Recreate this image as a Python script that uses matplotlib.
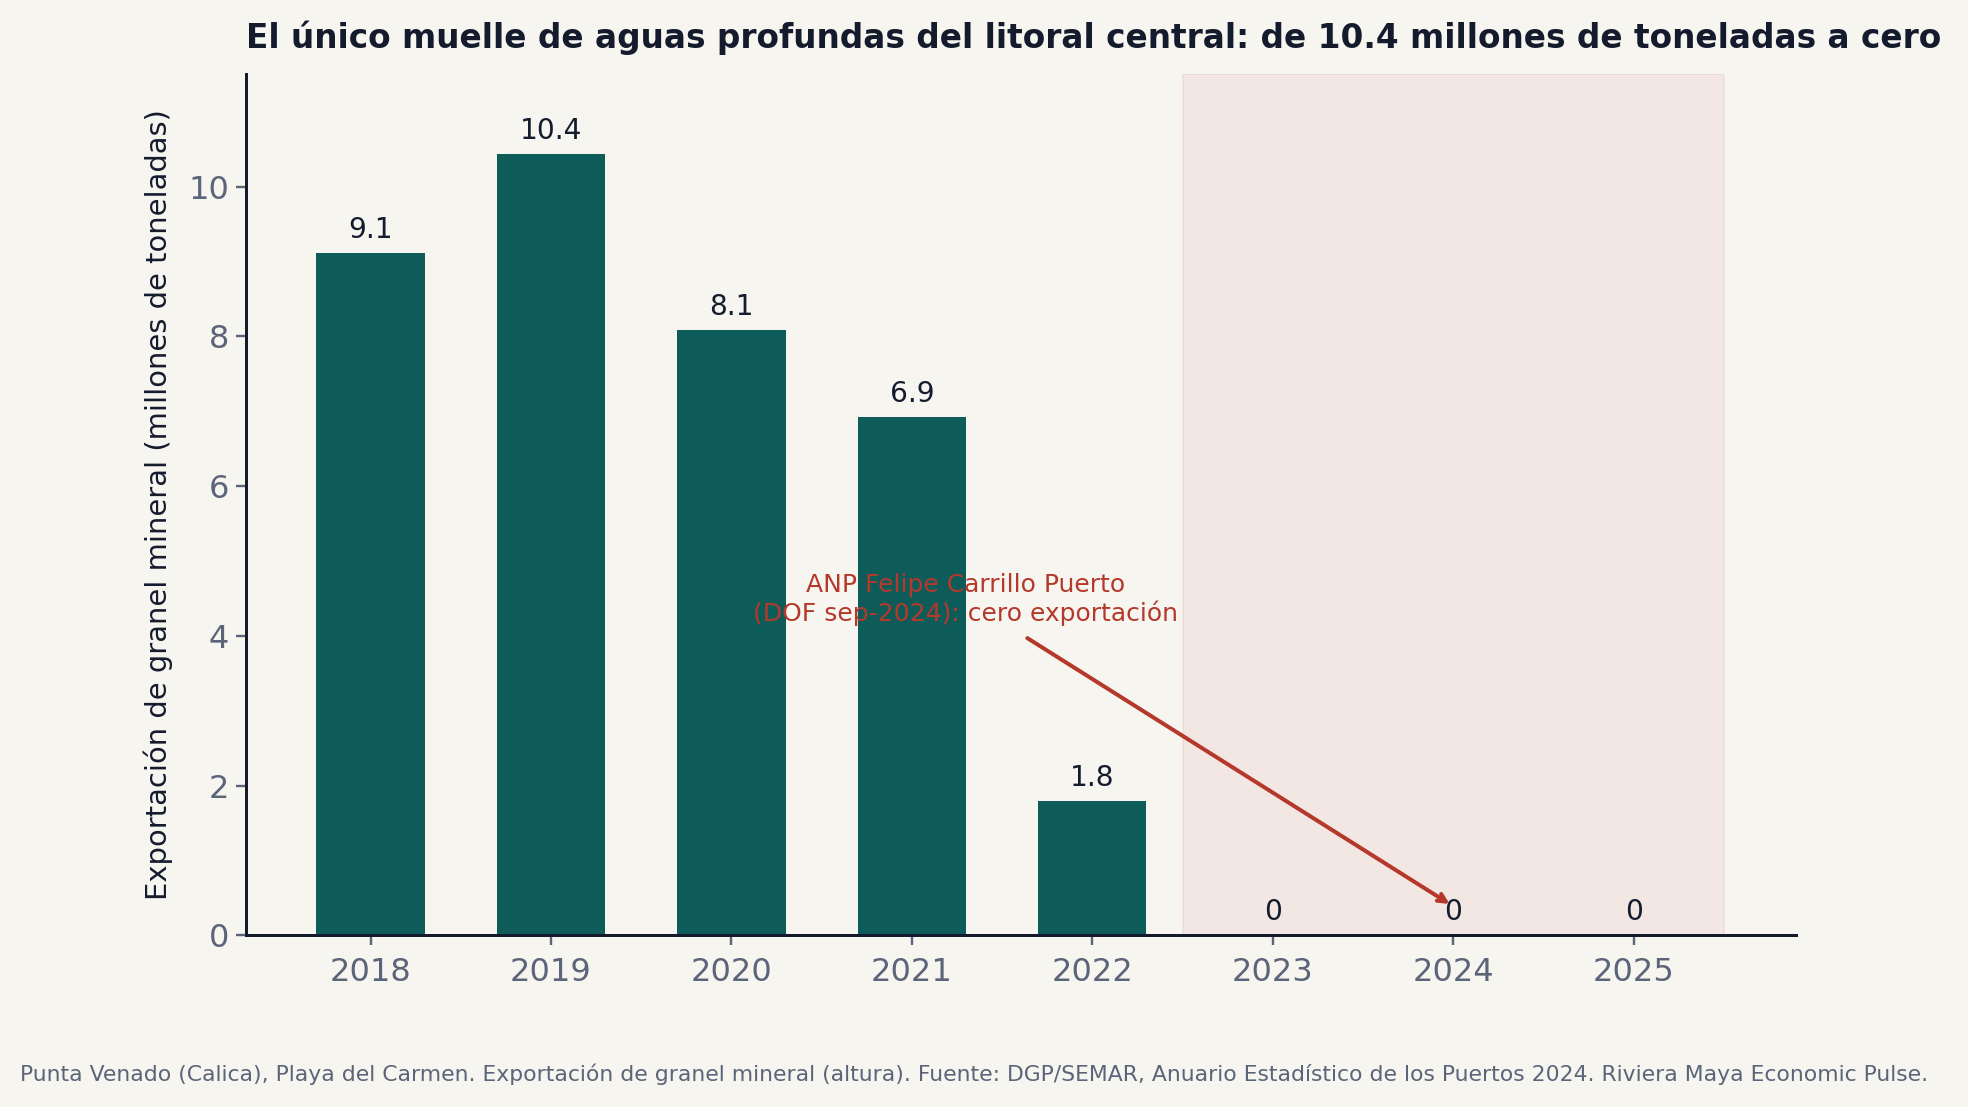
import numpy as np
import matplotlib
matplotlib.use('Agg')
import matplotlib.pyplot as plt

# data
years = ['2018', '2019', '2020', '2021', '2022', '2023', '2024', '2025']
export_mt = [9.11, 10.44, 8.09, 6.92, 1.80, 0, 0, 0]
labels = ['9.1', '10.4', '8.1', '6.9', '1.8', '0', '0', '0']

bg = '#f6f5f0'
teal = '#0d5c5a'
red = '#b5382b'
grey = '#5b6478'
dark = '#141b2d'

fig = plt.figure(figsize=(13.667, 7.6875), dpi=144, facecolor=bg)
ax = fig.add_axes([0.125, 0.155, 0.7876, 0.778])
ax.set_facecolor(bg)

x = np.arange(len(years))
ax.axvspan(4.5, 7.5, facecolor='#c0392b', alpha=0.07, edgecolor='#c0392b', lw=1, zorder=0)
ax.bar(x, export_mt, width=0.6, color=teal, zorder=2)
for xi, v, lab in zip(x, export_mt, labels):
    ax.text(xi, v + 0.12, lab, ha='center', va='bottom', fontsize=14, color=dark)

ax.set_xlim(-0.69, 7.9)
ax.set_ylim(0, 11.5)
ax.set_xticks(x)
ax.set_xticklabels(years)
ax.tick_params(axis='both', labelsize=16, colors=grey, length=5, width=1.2)
ax.tick_params(axis='x', pad=6)
for s in ['top', 'right']:
    ax.spines[s].set_visible(False)
for s in ['left', 'bottom']:
    ax.spines[s].set_color(dark)
    ax.spines[s].set_linewidth(1.5)

ax.set_ylabel('Exportación de granel mineral (millones de toneladas)', fontsize=14.5, color=dark, labelpad=7.5)

# annotation
ax.text(3.3, 4.13, 'ANP Felipe Carrillo Puerto\n(DOF sep-2024): cero exportación',
        ha='center', va='bottom', fontsize=12.5, color=red, linespacing=1.2)
ax.annotate('', xy=(5.98, 0.42), xytext=(3.64, 3.97),
            arrowprops=dict(arrowstyle='->', color=red, lw=2, shrinkA=0, shrinkB=0))

ax.set_title('El único muelle de aguas profundas del litoral central: de 10.4 millones de toneladas a cero',
             loc='left', fontsize=16.4, fontweight='bold', color=dark, pad=13)

fig.text(0.01, 0.03, 'Punta Venado (Calica), Playa del Carmen. Exportación de granel mineral (altura). '
         'Fuente: DGP/SEMAR, Anuario Estadístico de los Puertos 2024. Riviera Maya Economic Pulse.',
         fontsize=10.93, color=grey, ha='left', va='center')

plt.savefig('out.png', dpi=144, facecolor=bg)
